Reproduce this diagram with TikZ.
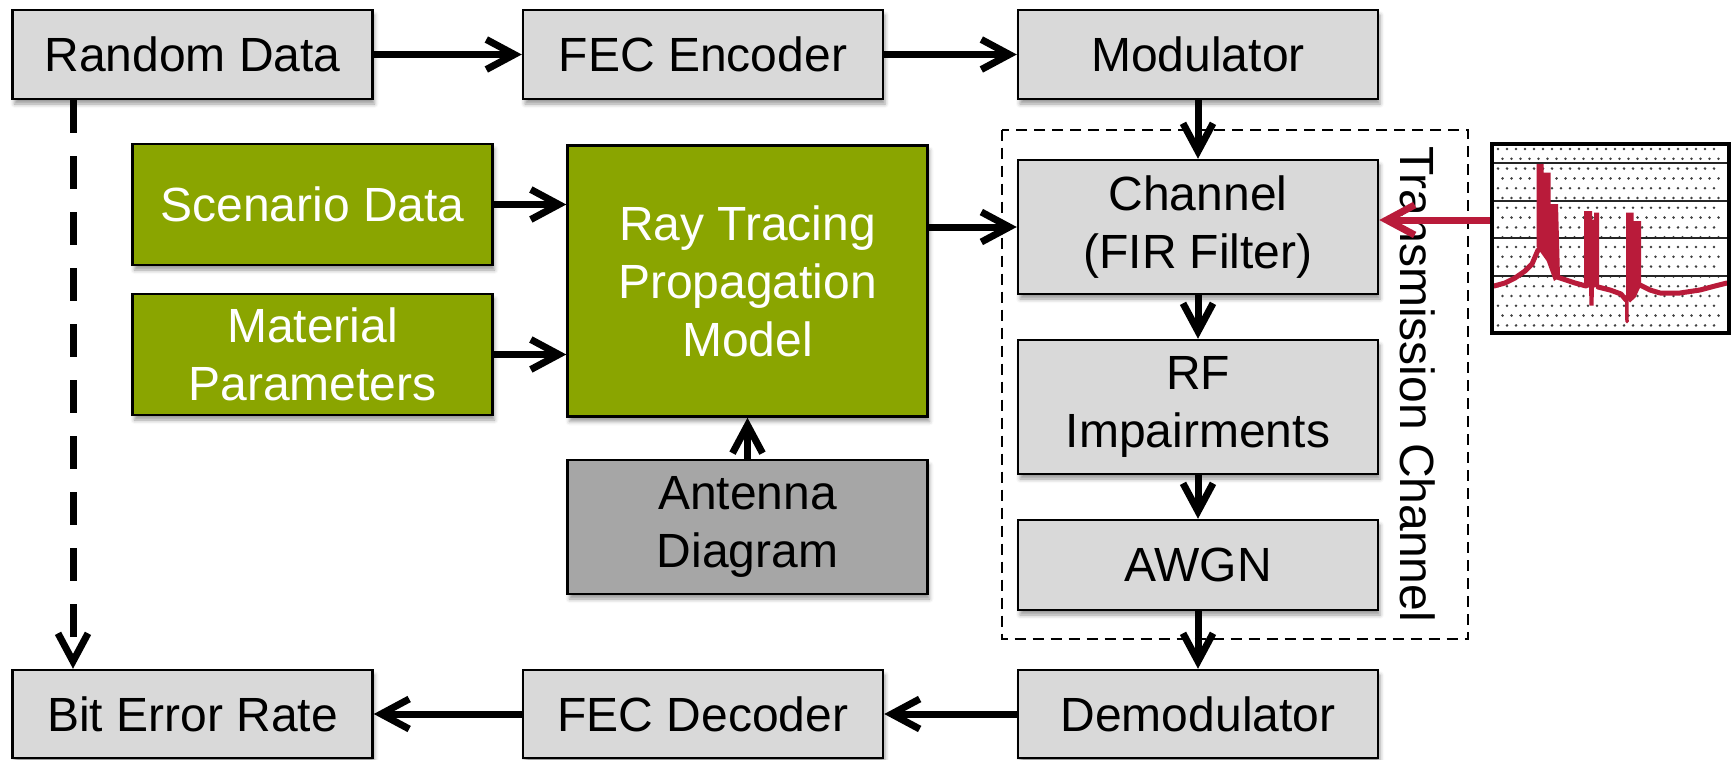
\documentclass[tikz,border=0pt]{standalone}
\usepackage{fontspec}
\setmainfont{Liberation Sans}
\usetikzlibrary{arrows.meta,shadows.blur,calc}
\definecolor{boxgray}{RGB}{217,217,217}
\definecolor{leafgreen}{RGB}{138,165,0}
\definecolor{antgray}{RGB}{166,166,166}
\definecolor{plotred}{RGB}{185,27,58}
\begin{document}
\begin{tikzpicture}[x=1pt,y=-1pt,
  every node/.style={font=\fontsize{48}{58}\selectfont, align=center, inner sep=0pt},
  blockbase/.style={draw=black, line width=2.5pt, minimum width=360pt,
    blur shadow={shadow xshift=2pt, shadow yshift=-5pt, shadow blur radius=4pt, shadow opacity=40}},
  graybox/.style={blockbase, fill=boxgray},
  greenbox/.style={blockbase, fill=leafgreen, text=white},
  antbox/.style={blockbase, fill=antgray},
  flow/.style={line width=7pt, -{Straight Barb[length=28pt,width=30pt]}},
  redflow/.style={flow, draw=plotred},
  dashflow/.style={flow, dash pattern=on 33pt off 23pt},
  groupframe/.style={line width=2pt, dash pattern=on 11pt off 7pt},
  trace/.style={plotred, line width=5pt, line join=round, line cap=round},
]
\useasboundingbox (0,0) rectangle (1735,760);

% transmitter chain
\node[graybox, minimum height=89pt] (rand)   at (192.5,54.5) {Random Data};
\node[graybox, minimum height=89pt] (fecenc) at (703,54.5)   {FEC Encoder};
\node[graybox, minimum height=89pt] (mod)    at (1198,54.5)  {Modulator};

% propagation model inputs
\node[greenbox, minimum height=121pt] (scen) at (312.5,204.5) {Scenario Data};
\node[greenbox, minimum height=121pt] (mat)  at (312.5,354.5) {Material\\Parameters};
\node[greenbox, minimum height=271pt] (ray)  at (747.5,281) {Ray Tracing\\Propagation\\Model};
\node[antbox,   minimum height=134pt] (ant)  at (747.5,527)   {Antenna\\Diagram};

% transmission channel
\draw[groupframe] (1002,129.5) rectangle (1468,639);
\node[graybox, minimum height=134pt] (chan) at (1198,227) {Channel\\(FIR Filter)};
\node[graybox, minimum height=134pt] (rf)   at (1198,407) {RF\\Impairments};
\node[graybox, minimum height=90pt]  (awgn) at (1198,565) {AWGN};
\node[rotate=-90] (tclabel) at (1418,384) {Transmission Channel};

% receiver chain
\node[graybox, minimum height=88pt] (demod)  at (1198,714)  {Demodulator};
\node[graybox, minimum height=88pt] (fecdec) at (703,714)   {FEC Decoder};
\node[graybox, minimum height=88pt] (ber)    at (192.5,714) {Bit Error Rate};

% connectors
\draw[flow] (rand) -- (fecenc);
\draw[flow] (fecenc) -- (mod);
\draw[flow] (mod) -- (chan);
\draw[flow] (scen.east) -- (scen.east -| ray.west);
\draw[flow] (mat.east) -- (mat.east -| ray.west);
\draw[flow] (chan.west -| ray.east) -- (chan.west);
\draw[flow] (ant) -- (ray);
\draw[flow] (chan) -- (rf);
\draw[flow] (rf) -- (awgn);
\draw[flow] (awgn) -- (demod);
\draw[flow] (demod) -- (fecdec);
\draw[flow] (fecdec) -- (ber);
\draw[dashflow] ([xshift=-119.5pt]rand.south) -- ([xshift=-119.5pt]ber.north);

% channel impulse response plot
\fill[white] (1492,144) rectangle (1729,333);
\foreach \r in {0,...,18}
  \foreach \c in {0,...,24}
    \fill[black!75] ({1498+9*\c+4.5*mod(\r,2)},{149+9.8*\r}) circle (1.4pt);
\foreach \yy in {163,201,238,276}
  \draw[line width=2pt, black!85] (1492,\yy) -- (1729,\yy);
\draw[trace]
  (1494,286) -- (1505,283) -- (1515,278) -- (1525,271) -- (1532,264) -- (1538,250);
\fill[plotred] (1536.5,246.7) -- (1536.5,164) -- (1543.5,164) -- (1543.5,172.5)
  -- (1550.5,172.5) -- (1550.5,204) -- (1558,204) -- (1560,277) -- (1554,281)
  -- (1546.7,261) -- cycle;
\draw[trace]
  (1557,277) -- (1566,280) -- (1575,283) -- (1586,286);
\fill[plotred] (1584,287) -- (1584,211) -- (1592,211) -- (1592,219.5)
  -- (1594,219.5) -- (1594,212.5) -- (1599,212.5) -- (1599,286) -- (1594,287.5)
  -- (1593.5,305.5) -- (1589.5,305.5) -- (1589,287.5) -- cycle;
\draw[trace]
  (1598,287) -- (1610,290) -- (1621,294) -- (1626,300);
\draw[plotred, line width=3.5pt, line cap=round] (1626.7,296) -- (1627,321.7);
\fill[plotred] (1626,212.5) -- (1633.5,212.5) -- (1633.5,221) -- (1641,221)
  -- (1641,285.5) -- (1635.5,297.5) -- (1630,302.5) -- (1626,297.5) -- cycle;
\draw[trace]
  (1640,285) -- (1650,290) -- (1660,293) -- (1680,293) -- (1700,290) -- (1715,286) -- (1727,283);
\draw[line width=4pt] (1492,144) rectangle (1729,333);
\coordinate (plotin) at (1490,220);
\draw[redflow] (plotin) -- (plotin -| chan.east);
\end{tikzpicture}
\end{document}
